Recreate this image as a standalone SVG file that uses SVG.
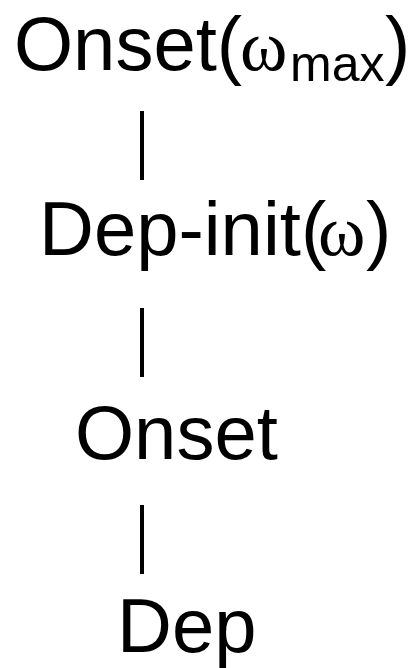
<svg xmlns="http://www.w3.org/2000/svg" width="411" height="668" viewBox="0 0 411 668">
<style>
.t{font-family:"Liberation Sans",Arial,sans-serif;font-size:76px;fill:#000}
.g{font-family:"Liberation Serif","Times New Roman",serif;font-size:72px}
.s{font-size:50px}
.c{stroke:#000;stroke-width:4;fill:none}
</style>
<rect width="411" height="668" fill="#fff"/>
<g id="connectors">
<line class="c" x1="142" y1="111" x2="142" y2="180"/>
<line class="c" x1="142" y1="308" x2="142" y2="377"/>
<line class="c" x1="142" y1="505" x2="142" y2="574"/>
</g>
<g id="n1"><text class="t" x="14" y="70">Onset(<tspan class="g" x="240">ω</tspan><tspan class="s" x="290" y="81">max</tspan><tspan x="385" y="70">)</tspan></text></g>
<g id="n2"><text class="t" x="39" y="255">Dep-init(<tspan class="g" x="318">ω</tspan><tspan x="366">)</tspan></text></g>
<g id="n3"><text class="t" x="75" y="459">Onset</text></g>
<g id="n4"><text class="t" x="117" y="652">Dep</text></g>
</svg>
